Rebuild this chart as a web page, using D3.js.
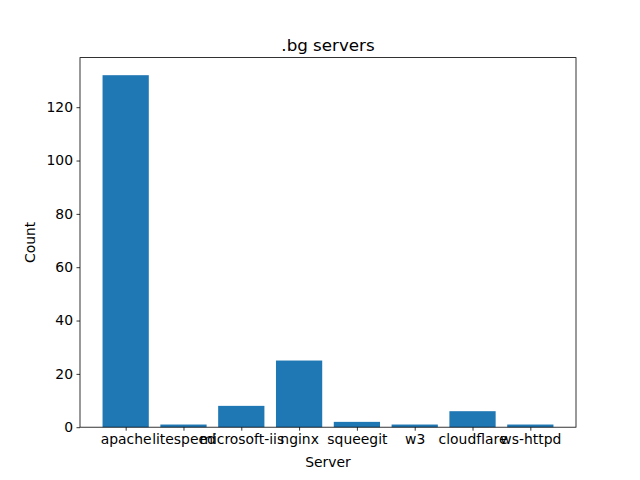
<!DOCTYPE html>
<html>
<head>
<meta charset="utf-8">
<script src="https://cdn.jsdelivr.net/npm/d3@7"></script>
<style>
  body { margin: 0; background: #fff; }
  text { font-family: "DejaVu Sans", sans-serif; fill: #000; }
</style>
</head>
<body>
<div id="chart"></div>
<script>
var servers = ["apache", "litespeed", "microsoft-iis", "nginx", "squeegit", "w3", "cloudflare", "ws-httpd"];
var counts = [132, 1, 8, 25, 2, 1, 6, 1];
var yTicks = [0, 20, 40, 60, 80, 100, 120];

var margin = {top: 57.6, right: 64, bottom: 52.8, left: 80},
    width = 640 - margin.left - margin.right,
    height = 480 - margin.top - margin.bottom;

var svg = d3.select("#chart").append("svg")
    .attr("width", 640)
    .attr("height", 480)
  .append("g")
    .attr("transform", "translate(" + margin.left + "," + margin.top + ")");

// matplotlib style: bar width 0.8, 5% margins on data range
var lo = -0.4, hi = servers.length - 1 + 0.4, pad = (hi - lo) * 0.05;
var x = d3.scaleLinear().domain([lo - pad, hi + pad]).range([0, width]);
var y = d3.scaleLinear().domain([0, d3.max(counts) * 1.05]).range([height, 0]);

svg.selectAll("rect.bar")
    .data(counts)
  .enter().append("rect")
    .attr("class", "bar")
    .attr("x", function(d, i) { return x(i - 0.4); })
    .attr("width", function(d, i) { return x(i + 0.4) - x(i - 0.4); })
    .attr("y", function(d) { return y(d); })
    .attr("height", function(d) { return y(0) - y(d); })
    .attr("fill", "#1f77b4");

var xAxis = d3.axisBottom(x)
    .tickValues(d3.range(servers.length))
    .tickFormat(function(i) { return servers[i]; })
    .tickSize(3.5).tickPadding(3.5);

var yAxis = d3.axisLeft(y)
    .tickValues(yTicks)
    .tickSize(3.5).tickPadding(3.5);

var gx = svg.append("g")
    .attr("transform", "translate(0," + height + ")")
    .call(xAxis);
var gy = svg.append("g").call(yAxis);

[gx, gy].forEach(function(g) {
  g.select(".domain").remove();
  g.selectAll(".tick line").attr("stroke", "#000").attr("stroke-width", 0.8);
  g.selectAll(".tick text").style("font-size", "13.9px");
});

// frame
svg.append("rect")
    .attr("width", width)
    .attr("height", height)
    .attr("fill", "none")
    .attr("stroke", "#000")
    .attr("stroke-width", 0.8);

svg.append("text")
    .attr("x", width / 2)
    .attr("y", -6.5)
    .attr("text-anchor", "middle")
    .style("font-size", "16.7px")
    .text(".bg servers");

svg.append("text")
    .attr("x", width / 2)
    .attr("y", height + 40)
    .attr("text-anchor", "middle")
    .style("font-size", "13.9px")
    .text("Server");

svg.append("text")
    .attr("transform", "rotate(-90)")
    .attr("x", -height / 2)
    .attr("y", -45)
    .attr("text-anchor", "middle")
    .style("font-size", "13.9px")
    .text("Count");
</script>
</body>
</html>
